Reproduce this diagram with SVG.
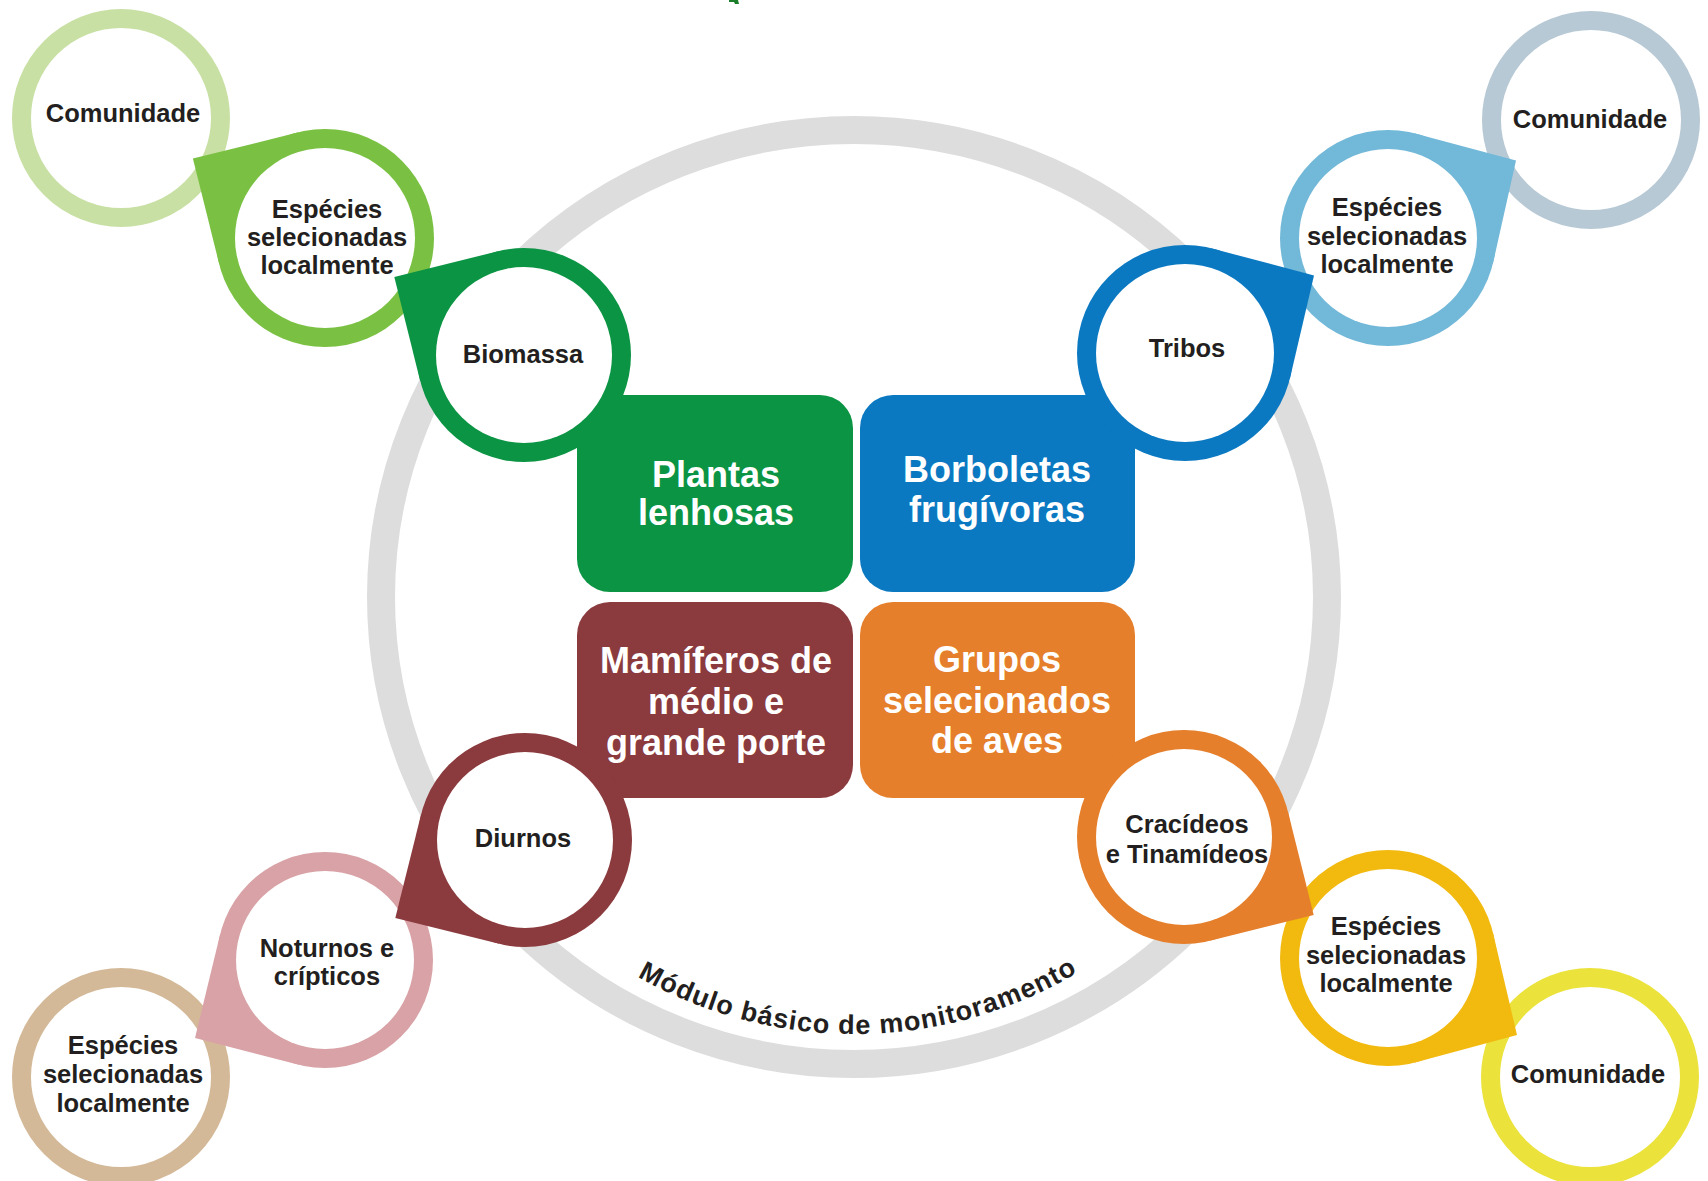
<svg xmlns="http://www.w3.org/2000/svg" xmlns:xlink="http://www.w3.org/1999/xlink" width="1708" height="1181" viewBox="0 0 1708 1181">
<style>
.lbl{font-family:"Liberation Sans",Arial,sans-serif;font-weight:bold;font-size:25.5px;fill:#231f20;text-anchor:middle}
.bx{font-family:"Liberation Sans",Arial,sans-serif;font-weight:bold;font-size:36px;fill:#ffffff;text-anchor:middle}
.arc{font-family:"Liberation Sans",Arial,sans-serif;font-weight:bold;font-size:27px;fill:#231f20;letter-spacing:1px}
.hole{fill:#ffffff}
.ring{fill:#ffffff;stroke-width:19}
</style>
<defs>
<path id="modarc" d="M475.5 815.5 A437 437 0 0 0 1232.5 815.5"/>
</defs>
<rect width="1708" height="1181" fill="#ffffff"/>
<path d="M729 0 h9 l1 4 h-4 l-1 -2 h-5 z" fill="#1b7f2a"/>

<g id="module-ring">
<ellipse cx="854" cy="597" rx="473" ry="467" fill="none" stroke="#dddddd" stroke-width="28"/>
<text class="arc"><textPath xlink:href="#modarc" href="#modarc" startOffset="50.5%" text-anchor="middle">Módulo básico de monitoramento</textPath></text>
</g>

<g id="connectors"></g>

<g id="box-plantas">
<rect x="577" y="395" width="276" height="197" rx="33" fill="#0b9444"/>
<text class="bx" x="716" y="487">Plantas</text>
<text class="bx" x="716" y="525">lenhosas</text>
</g>
<g id="box-borboletas">
<rect x="860" y="395" width="275" height="197" rx="33" fill="#0b79c1"/>
<text class="bx" x="997" y="482">Borboletas</text>
<text class="bx" x="997" y="522">frugívoras</text>
</g>
<g id="box-mamiferos">
<rect x="577" y="602" width="276" height="196" rx="33" fill="#8b3a3d"/>
<text class="bx" x="716" y="673">Mamíferos de</text>
<text class="bx" x="716" y="714">médio e</text>
<text class="bx" x="716" y="755">grande porte</text>
</g>
<g id="box-grupos">
<rect x="860" y="602" width="275" height="196" rx="33" fill="#e57f2b"/>
<text class="bx" x="997" y="672">Grupos</text>
<text class="bx" x="997" y="713">selecionados</text>
<text class="bx" x="997" y="753">de aves</text>
</g>

<!-- outer rings -->
<g id="comunidade-tl">
<circle class="ring" cx="121" cy="118" r="99.5" stroke="#c8e0a4"/>
<text class="lbl" x="123" y="122">Comunidade</text>
</g>
<g id="comunidade-tr">
<circle class="ring" cx="1591" cy="120" r="99.5" stroke="#b7c9d5"/>
<text class="lbl" x="1590" y="128">Comunidade</text>
</g>
<g id="especies-bl">
<circle class="ring" cx="121" cy="1077" r="99.5" stroke="#d4b998"/>
<text class="lbl" x="123" y="1054">Espécies</text>
<text class="lbl" x="123" y="1083">selecionadas</text>
<text class="lbl" x="123" y="1112">localmente</text>
</g>
<g id="comunidade-br">
<circle class="ring" cx="1590" cy="1077" r="99.5" stroke="#ebe23c"/>
<text class="lbl" x="1588" y="1083">Comunidade</text>
</g>

<!-- middle teardrops -->
<g id="especies-tl">
<circle cx="325" cy="238" r="109" fill="#7ac143"/>
<polygon points="298.6,132.3 192.9,158.6 219.3,264.4 325,238" fill="#7ac143"/>
<circle class="hole" cx="325" cy="238" r="90"/>
<text class="lbl" x="327" y="218">Espécies</text>
<text class="lbl" x="327" y="246">selecionadas</text>
<text class="lbl" x="327" y="274">localmente</text>
</g>
<g id="especies-tr">
<circle cx="1388" cy="238" r="108" fill="#72b8d8"/>
<polygon points="1492.8,264.1 1516,160.5 1414.1,133.2 1388,238" fill="#72b8d8"/>
<circle class="hole" cx="1388" cy="238" r="89"/>
<text class="lbl" x="1387" y="216">Espécies</text>
<text class="lbl" x="1387" y="245">selecionadas</text>
<text class="lbl" x="1387" y="273">localmente</text>
</g>
<g id="noturnos">
<circle cx="325" cy="960" r="108" fill="#d8a2a6"/>
<polygon points="220.2,933.9 195,1038 298.9,1064.8 325,960" fill="#d8a2a6"/>
<circle class="hole" cx="325" cy="960" r="89"/>
<text class="lbl" x="327" y="957">Noturnos e</text>
<text class="lbl" x="327" y="985">crípticos</text>
</g>
<g id="especies-br">
<circle cx="1388" cy="958" r="108" fill="#f2b90f"/>
<polygon points="1414.1,1062.8 1517,1035 1492.8,931.9 1388,958" fill="#f2b90f"/>
<circle class="hole" cx="1388" cy="958" r="89"/>
<text class="lbl" x="1386" y="935">Espécies</text>
<text class="lbl" x="1386" y="964">selecionadas</text>
<text class="lbl" x="1386" y="992">localmente</text>
</g>

<!-- inner teardrops -->
<g id="biomassa">
<circle cx="524" cy="355" r="107" fill="#0b9444"/>
<polygon points="498.1,251.2 394.3,277.1 420.2,380.9 524,355" fill="#0b9444"/>
<circle class="hole" cx="524" cy="355" r="88"/>
<text class="lbl" x="523" y="363">Biomassa</text>
</g>
<g id="tribos">
<circle cx="1185" cy="353" r="108" fill="#0b79c1"/>
<polygon points="1289.8,379.1 1314,275.5 1211.1,248.2 1185,353" fill="#0b79c1"/>
<circle class="hole" cx="1185" cy="353" r="89"/>
<text class="lbl" x="1187" y="357">Tribos</text>
</g>
<g id="diurnos">
<circle cx="525" cy="840" r="107" fill="#8b3a3d"/>
<polygon points="421.2,814.1 395.3,917.9 499.1,943.8 525,840" fill="#8b3a3d"/>
<circle class="hole" cx="525" cy="840" r="88"/>
<text class="lbl" x="523" y="847">Diurnos</text>
</g>
<g id="cracideos">
<circle cx="1184" cy="837" r="107" fill="#e57f2b"/>
<polygon points="1209.9,940.8 1313.7,914.9 1287.8,811.1 1184,837" fill="#e57f2b"/>
<circle class="hole" cx="1184" cy="837" r="88"/>
<text class="lbl" x="1187" y="833">Cracídeos</text>
<text class="lbl" x="1187" y="863">e Tinamídeos</text>
</g>
</svg>
